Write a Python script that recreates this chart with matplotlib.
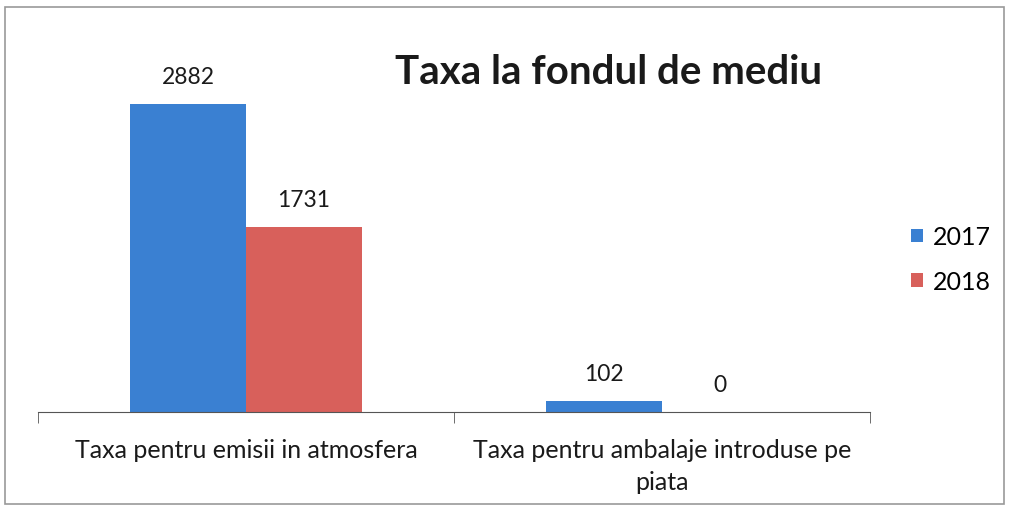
import matplotlib.pyplot as plt
from matplotlib.patches import Rectangle

plt.rcParams['font.family'] = ['Lato', 'DejaVu Sans']

# data
categories = ['Taxa pentru emisii in atmosfera', 'Taxa pentru ambalaje introduse pe\npiata']
years = ['2017', '2018']
values_2017 = [2882, 102]
values_2018 = [1731, 0]

fig = plt.figure(figsize=(10.09, 5.10), dpi=100)
ax = fig.add_axes([38/1009, 1 - 413/510, (870-38)/1009, 374/510])

x = [0, 1]
w = 0.279
b1 = ax.bar([i - w/2 for i in x], values_2017, width=w, color='#3a80d2', label=years[0])
b2 = ax.bar([i + w/2 for i in x], values_2018, width=w, color='#d8605b', label=years[1])

# value labels above bars
for bars in (b1, b2):
    for r in bars:
        ax.annotate(str(int(r.get_height())), (r.get_x() + r.get_width()/2, r.get_height()),
                    xytext=(0, 12), textcoords='offset points', ha='center', va='bottom',
                    fontsize=16.5, color='#1a1a1a')

ax.set_xlim(-0.5, 1.5)
ax.set_ylim(0, 3500)

for s in ['top', 'right', 'left']:
    ax.spines[s].set_visible(False)
ax.spines['bottom'].set_color('#555555')
ax.set_yticks([])

ax.set_xticks(x)
ax.set_xticklabels(categories, fontsize=18, color='#1a1a1a', linespacing=1.45)
ax.tick_params(axis='x', which='major', length=0, pad=19)
ax.set_xticks([-0.5, 0.5, 1.5], minor=True)
ax.tick_params(axis='x', which='minor', length=8, color='#555555')

fig.text(0.603, 0.858, 'Taxa la fondul de mediu', ha='center', va='center',
         fontsize=29, fontweight='bold', color='#1a1a1a')

leg = fig.legend(handles=[b1, b2], loc='center left', bbox_to_anchor=(0.881, 0.49),
                 frameon=False, fontsize=18, handlelength=0.45, handleheight=0.45,
                 handletextpad=0.4, labelspacing=0.85)

# outer frame of the chart
fig.patches.append(Rectangle((5/1009, 5/510), 999/1009, 497/510, transform=fig.transFigure,
                             fill=False, edgecolor='#999999', linewidth=1.2))

fig.savefig('out.png', dpi=100)
